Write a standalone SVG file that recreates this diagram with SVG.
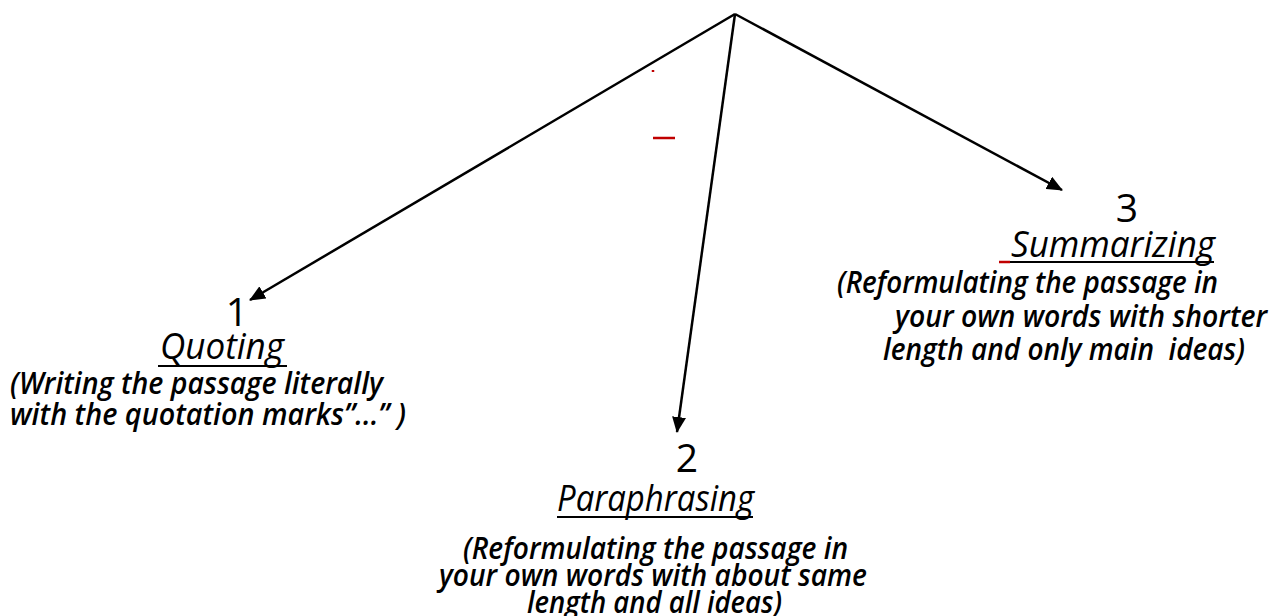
<svg xmlns="http://www.w3.org/2000/svg" width="1276" height="616" viewBox="0 0 1276 616">
<style>
text{font-family:"Open Sans","DejaVu Sans",sans-serif;fill:#000}
.num{font-size:39px}
.title{font-size:36px;font-style:italic}
.desc{font-size:30px;font-style:italic;font-weight:600}
.ul{stroke:#000;stroke-width:2}
.red{stroke:#c00000;stroke-width:2.5}
.conn{stroke:#000;stroke-width:2.5;fill:none}
</style>
<defs>
<marker id="ah" markerUnits="userSpaceOnUse" markerWidth="16" markerHeight="14" refX="15" refY="7" orient="auto">
<path d="M0,0 L16,7 L0,14 Z" fill="#000"/>
</marker>
</defs>
<g id="connectors">
<line class="conn" x1="735" y1="14" x2="250" y2="300" marker-end="url(#ah)"/>
<line class="conn" x1="735" y1="14" x2="677" y2="432" marker-end="url(#ah)"/>
<line class="conn" x1="735" y1="14" x2="1062" y2="190" marker-end="url(#ah)"/>
</g>
<g id="marks">
<line class="red" x1="653" y1="70" x2="653" y2="72" stroke-width="1.5"/>
<line class="red" x1="653" y1="138" x2="675" y2="138"/>
</g>
<g id="node1">
<text class="num" x="237" y="326" text-anchor="middle">1</text>
<text class="title" x="160" y="359" textLength="124" lengthAdjust="spacingAndGlyphs">Quoting</text>
<line class="ul" x1="158" y1="366" x2="287" y2="366"/>
<text class="desc" x="10" y="394" textLength="373" lengthAdjust="spacingAndGlyphs">(Writing the passage literally</text>
<text class="desc" x="10" y="425" textLength="396" lengthAdjust="spacingAndGlyphs">with the quotation marks”...” )</text>
</g>
<g id="node2">
<text class="num" x="687" y="472" text-anchor="middle">2</text>
<text class="title" x="557" y="511" textLength="197" lengthAdjust="spacingAndGlyphs">Paraphrasing</text>
<line class="ul" x1="557" y1="517" x2="753" y2="517"/>
<text class="desc" x="463" y="559" textLength="385" lengthAdjust="spacingAndGlyphs">(Reformulating the passage in</text>
<text class="desc" x="439" y="586" textLength="428" lengthAdjust="spacingAndGlyphs">your own words with about same</text>
<text class="desc" x="527" y="613" textLength="255" lengthAdjust="spacingAndGlyphs">length and all ideas)</text>
</g>
<g id="node3">
<text class="num" x="1127" y="222" text-anchor="middle">3</text>
<text class="title" x="1011" y="257" textLength="204" lengthAdjust="spacingAndGlyphs">Summarizing</text>
<line class="red" x1="999" y1="262" x2="1010" y2="262" stroke-width="2"/>
<line class="ul" x1="1010" y1="262" x2="1214" y2="262"/>
<text class="desc" x="837" y="293" textLength="381" lengthAdjust="spacingAndGlyphs">(Reformulating the passage in</text>
<text class="desc" x="895" y="327" textLength="372" lengthAdjust="spacingAndGlyphs">your own words with shorter</text>
<text class="desc" x="883" y="360" textLength="362" lengthAdjust="spacingAndGlyphs" style="white-space:pre">length and only main  ideas)</text>
</g>
</svg>
